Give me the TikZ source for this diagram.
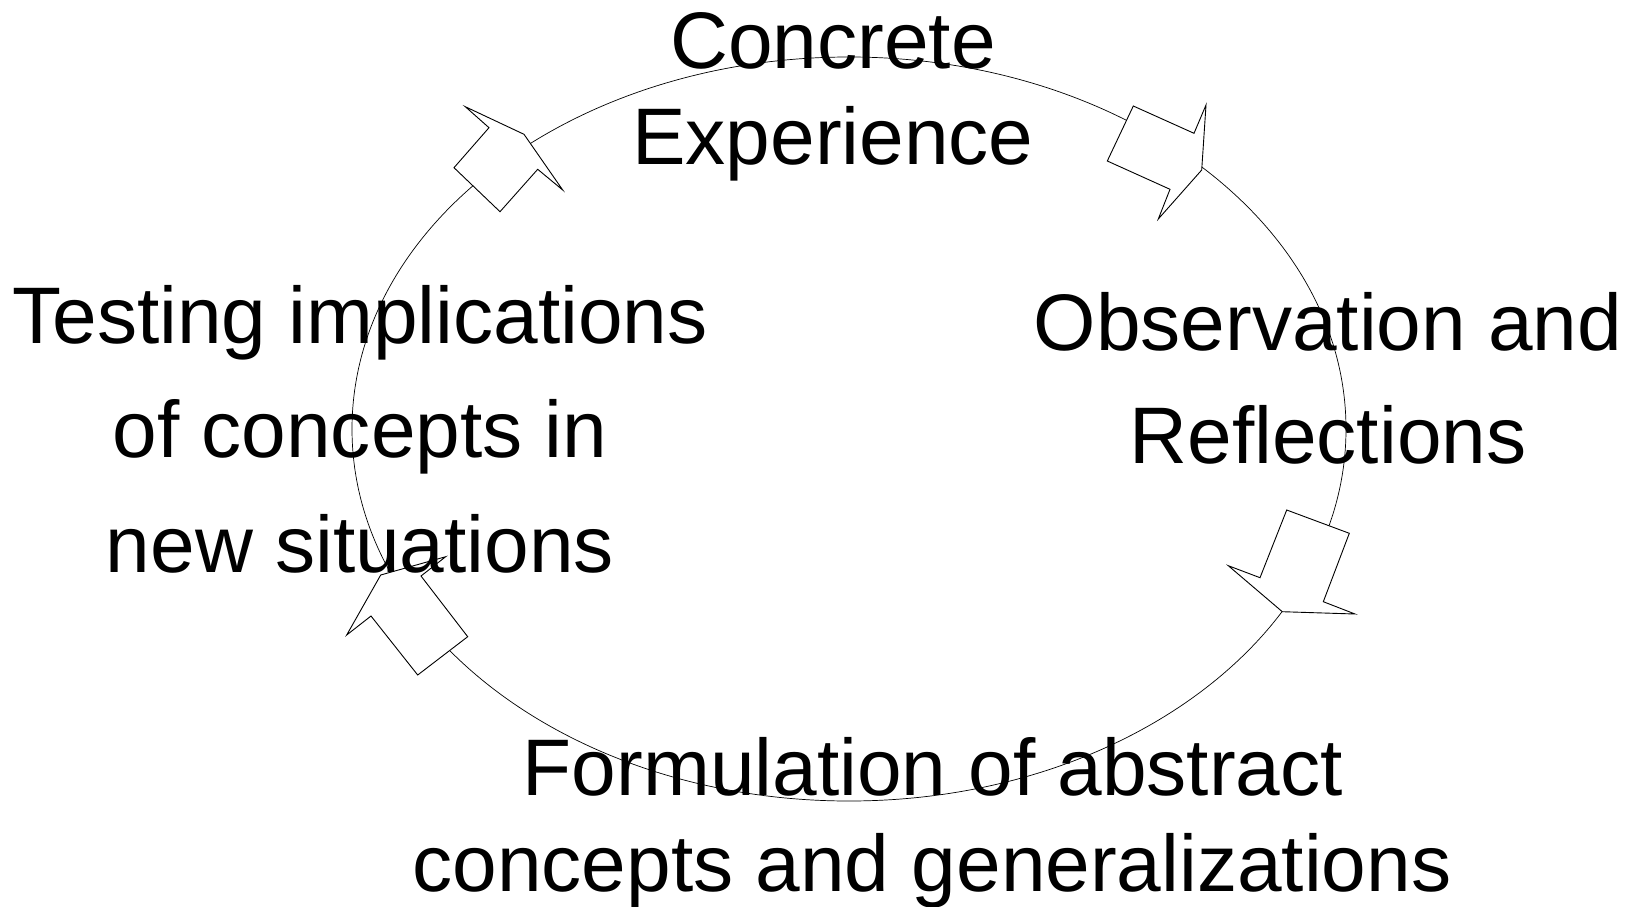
\documentclass[tikz,border=0pt]{standalone}
\usepackage{fontspec}
\setmainfont{Liberation Sans}
\tikzset{
  lbl/.style={anchor=base,inner sep=0pt,font=\fontsize{80.2}{96}\selectfont},
  blockarrow/.style={draw=black,fill=white,line width=0.9pt,line join=miter},
  cyc/.style={draw=black,line width=0.7pt}
}
\begin{document}
\begin{tikzpicture}[x=1pt,y=-1pt]
\useasboundingbox (0,0) rectangle (1630,907);
\draw[cyc] (849,429) ellipse [x radius=497, y radius=372];
% top-left arrow
\draw[blockarrow] (465.3,106.7) -- (489.0,127.7) -- (454.0,167.7) -- (500.0,211.7) -- (537.7,169.3) -- (562.7,190.0) -- (524.0,134.3) -- cycle;
% top-right arrow
\draw[blockarrow] (1133.3,106) -- (1107.3,161) -- (1170,189.3) -- (1158.3,219) -- (1201.7,170) -- (1206,105) -- (1194,133.3) -- cycle;
% right-bottom arrow
\draw[blockarrow] (1286.7,510) -- (1349.3,533.3) -- (1323.3,601.7) -- (1355,614) -- (1282.3,611.7) -- (1228.3,565.7) -- (1260,577.7) -- cycle;
% bottom-left arrow
\draw[blockarrow] (417.7,675) -- (467.7,636.7) -- (421,576) -- (445.7,556.7) -- (380.7,575) -- (346.7,635) -- (371,616) -- cycle;
% texts
\node[lbl] (ce1) at (833,69) {Concrete};
\node[lbl] (ce2) at (833,164) {Experience};
\node[lbl] (ti1) at (360,343) {Testing implications};
\node[lbl] (ti2) at (360,457) {of concepts in};
\node[lbl] (ti3) at (360,572) {new situations};
\node[lbl] (or1) at (1328,350) {Observation and};
\node[lbl] (or2) at (1328,463) {Reflections};
\node[lbl] (fa1) at (933,795) {Formulation of abstract};
\node[lbl] (fa2) at (932,891) {concepts and generalizations};
\end{tikzpicture}
\end{document}
